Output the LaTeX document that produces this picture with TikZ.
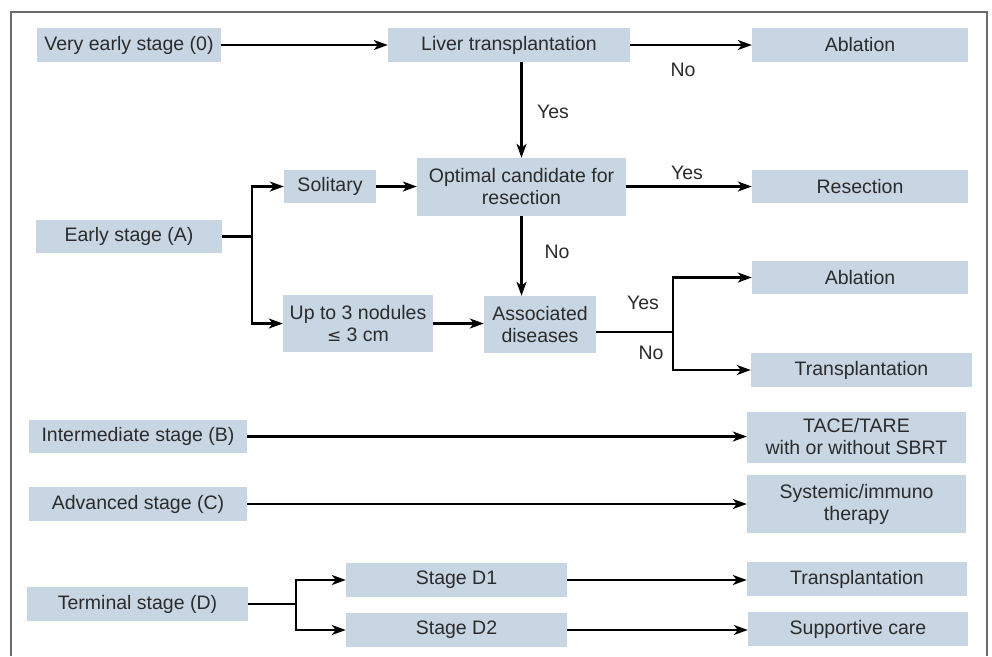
\documentclass[tikz,border=0pt]{standalone}
\usepackage{fontspec}
\setmainfont{Liberation Sans}
\usetikzlibrary{arrows.meta}
\definecolor{boxfill}{HTML}{C8D6E3}
\definecolor{txt}{HTML}{2B2B2B}
\definecolor{framec}{HTML}{6A6A6A}
\begin{document}
\begin{tikzpicture}[x=1pt,y=-1pt,
  font=\fontsize{19.5}{22}\selectfont,
  box/.style={fill=boxfill, text=txt, inner sep=0pt, align=center, minimum height=34},
  lbl/.style={text=txt, inner sep=0pt},
  conn/.style={line width=2.3, draw=black},
  arr/.style={conn, -{Stealth[length=14,width=10,inset=4]}}]
\useasboundingbox (0,0) rectangle (992,656);
\draw[framec, line width=1.6] (11,656) -- (11,12) -- (987,12) -- (987,656);

% nodes
\node[box, minimum width=184] (v0) at (129,45) {Very early stage (0)};
\node[box, minimum width=242] (lt) at (509,45) {Liver transplantation};
\node[box, minimum width=216] (ab1) at (860,45) {Ablation};
\node[box, minimum width=92, minimum height=33] (sol) at (330,186.5) {Solitary};
\node[box, minimum width=209, minimum height=58] (opt) at (521.5,187) {Optimal candidate for\\resection};
\node[box, minimum width=216, minimum height=33] (res) at (860,186.5) {Resection};
\node[box, minimum width=186, minimum height=33] (ea) at (129,236.5) {Early stage (A)};
\node[box, minimum width=150, minimum height=57] (up3) at (358,323.5) {Up to 3 nodules\\{\fontspec{DejaVu Sans}\fontsize{17}{22}\selectfont ≤} 3 cm};
\node[box, minimum width=112, minimum height=57] (asd) at (540,324.5) {Associated\\diseases};
\node[box, minimum width=216, minimum height=33] (ab2) at (860,277.5) {Ablation};
\node[box, minimum width=221] (tr1) at (861.5,370) {Transplantation};
\node[box, minimum width=218, minimum height=33] (ib) at (138,436.5) {Intermediate stage (B)};
\node[box, minimum width=219, minimum height=51] (tace) at (856.5,437) {TACE/TARE\\with or without SBRT};
\node[box, minimum width=218] (ac) at (138,504) {Advanced stage (C)};
\node[box, minimum width=219, minimum height=58] (sys) at (856.5,504) {Systemic/immuno\\therapy};
\node[box, minimum width=221] (td) at (137.5,604) {Terminal stage (D)};
\node[box, minimum width=221] (d1) at (456.5,580) {Stage D1};
\node[box, minimum width=221] (d2) at (456.5,630) {Stage D2};
\node[box, minimum width=220] (tr2) at (857,579) {Transplantation};
\node[box, minimum width=220] (sc) at (858,629) {Supportive care};

% labels
\node[lbl] (no1) at (683,70) {No};
\node[lbl] (yes1) at (553,112) {Yes};
\node[lbl] (yes2) at (687,173) {Yes};
\node[lbl] (no2) at (557,252) {No};
\node[lbl] (yes3) at (643,303) {Yes};
\node[lbl] (no3) at (651,353) {No};

% branch coordinates
\coordinate (bA) at (252,236.5);
\coordinate (bS) at (673,332);
\coordinate (bD) at (296,604);

% connectors
\draw[arr] (v0.east) -- (lt.west);
\draw[arr] (lt.east) -- (ab1.west);
\draw[arr] (lt.south -| opt.north) -- (opt.north);
\draw[arr] (sol.east) -- (opt.west |- sol.east);
\draw[arr] (opt.east |- res.west) -- (res.west);
\draw[conn] (ea.east) -- (bA);
\draw[arr] (bA) |- (sol.west);
\draw[arr] (bA) |- (up3.west);
\draw[arr] (up3.east) -- (asd.west |- up3.east);
\draw[arr] (opt.south) -- (opt.south |- asd.north);
\draw[conn] (asd.east |- bS) -- (bS);
\draw[arr] (bS) |- (ab2.west);
\draw[arr] (bS) |- (tr1.west);
\draw[arr] (ib.east) -- (tace.west |- ib.east);
\draw[arr] (ac.east) -- (sys.west |- ac.east);
\draw[conn] (td.east) -- (bD);
\draw[arr] (bD) |- (d1.west);
\draw[arr] (bD) |- (d2.west);
\draw[arr] (d1.east) -- (tr2.west |- d1.east);
\draw[arr] (d2.east) -- (sc.west |- d2.east);
\end{tikzpicture}
\end{document}
